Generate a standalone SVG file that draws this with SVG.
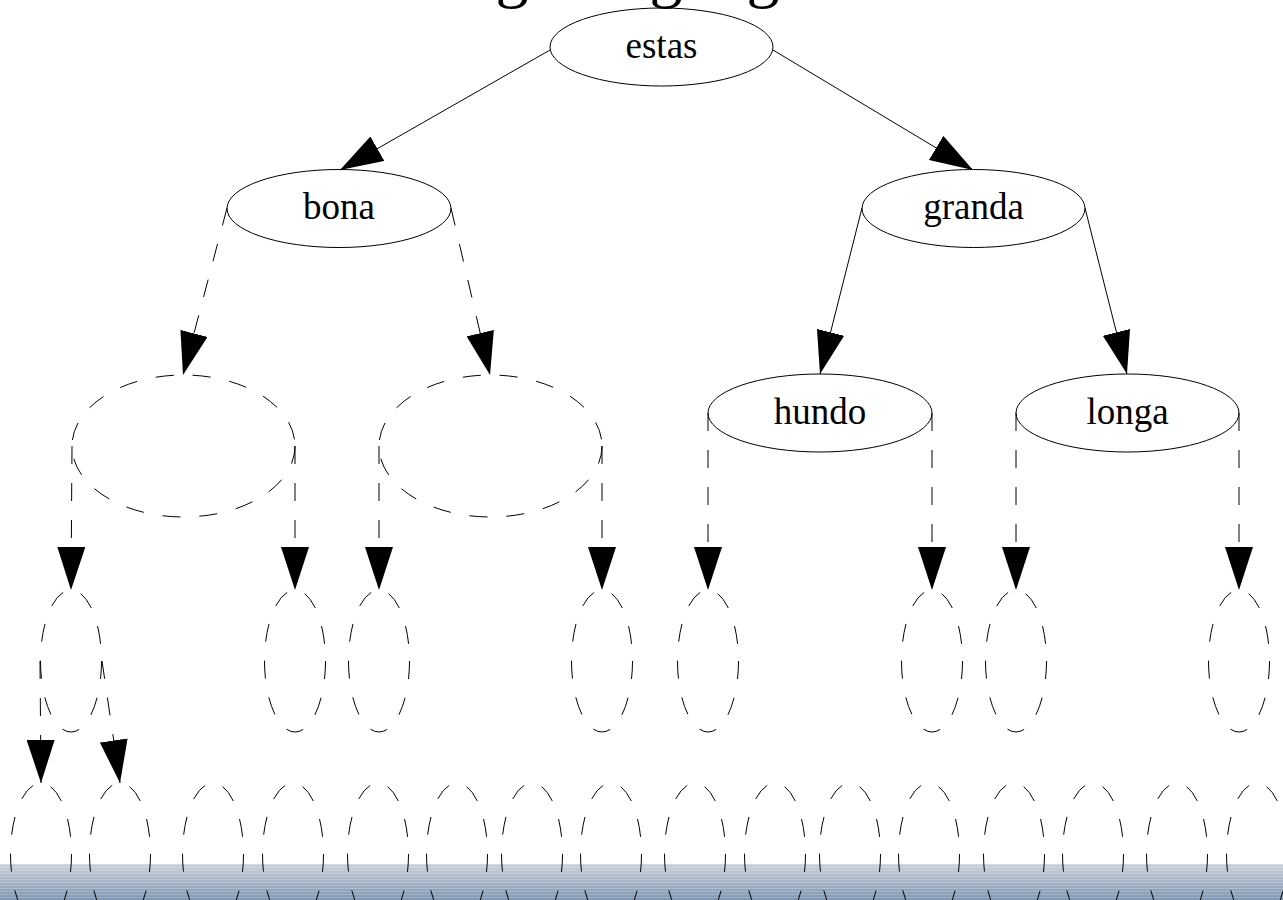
<svg xmlns="http://www.w3.org/2000/svg" width="1283" height="900" viewBox="0 0 1283 900">
<style>
  .lbl { font-family: "Liberation Serif", "Times New Roman", serif; font-size: 37px; text-anchor: middle; fill: #000; }
  .title { font-family: "Liberation Serif", "Times New Roman", serif; font-size: 66px; text-anchor: middle; fill: #000; }
  .solid { fill: none; stroke: #000; stroke-width: 1; }
  .dash { fill: none; stroke: #000; stroke-width: 1; stroke-dasharray: 18 19; }
  .edge { fill: none; stroke: #000; stroke-width: 1; marker-end: url(#arrow); }
  .edge.d { stroke-dasharray: 18 19; }
</style>
<defs>
  <marker id="arrow" viewBox="0 0 43 28" refX="43" refY="14" markerWidth="43" markerHeight="28" markerUnits="userSpaceOnUse" orient="auto">
    <path d="M0,0 L43,14 L0,28 Z" fill="#000" stroke="none"/>
  </marker>
  <linearGradient id="barGrad" x1="0" y1="0" x2="0" y2="1">
    <stop offset="0" stop-color="#c9d1da"/>
    <stop offset="1" stop-color="#7f95b1"/>
  </linearGradient>
  <pattern id="stripes" width="8" height="3" patternUnits="userSpaceOnUse">
    <rect x="0" y="0" width="8" height="1" fill="#ffffff" fill-opacity="0.22"/>
  </pattern>
</defs>
<rect x="0" y="0" width="1283" height="900" fill="#fff"/>
<g id="bottom-bar">
  <rect x="0" y="864" width="1283" height="36" fill="url(#barGrad)"/>
  <rect x="0" y="864" width="1283" height="36" fill="url(#stripes)"/>
</g>
<text class="title" x="512 666 763" y="-5">ggg</text>

<g id="connectors">
  <path class="edge" d="M550,50 L340,170"/>
  <path class="edge" d="M773,50 L973,170"/>
  <path class="edge d" d="M227,208 L183,375"/>
  <path class="edge d" d="M451,208 L490,375"/>
  <path class="edge" d="M862,208 L820,374"/>
  <path class="edge" d="M1085,208 L1127,374"/>
  <path class="edge d" d="M72,446 L71,590"/>
  <path class="edge d" d="M295,446 L295,590"/>
  <path class="edge d" d="M379,446 L379,590"/>
  <path class="edge d" d="M602,446 L602,590"/>
  <path class="edge d" d="M708,413 L708,590"/>
  <path class="edge d" d="M932,413 L932,590"/>
  <path class="edge d" d="M1016,413 L1016,590"/>
  <path class="edge d" d="M1239,413 L1239,590"/>
  <path class="edge d" d="M40,661 L41,783"/>
  <path class="edge d" d="M102,661 L120,783"/>
</g>

<g id="node-estas"><ellipse class="solid" cx="661.5" cy="47" rx="111.5" ry="39"/><text class="lbl" x="661.5" y="58">estas</text></g>
<g id="node-bona"><ellipse class="solid" cx="339" cy="208.5" rx="112" ry="39"/><text class="lbl" x="339" y="219">bona</text></g>
<g id="node-granda"><ellipse class="solid" cx="973.5" cy="208.5" rx="111.5" ry="39"/><text class="lbl" x="973.5" y="219">granda</text></g>
<g id="node-hundo"><ellipse class="solid" cx="820" cy="413" rx="112" ry="39"/><text class="lbl" x="820" y="424">hundo</text></g>
<g id="node-longa"><ellipse class="solid" cx="1127.5" cy="413" rx="111.5" ry="39"/><text class="lbl" x="1127.5" y="424">longa</text></g>

<g id="node-b1"><ellipse class="dash" cx="183.5" cy="446" rx="111.5" ry="71"/></g>
<g id="node-b2"><ellipse class="dash" cx="490.5" cy="446" rx="111.5" ry="71"/></g>

<g id="node-c1"><ellipse class="dash" cx="71" cy="661" rx="30.5" ry="71"/></g>
<g id="node-c2"><ellipse class="dash" cx="295" cy="661" rx="30.5" ry="71"/></g>
<g id="node-c3"><ellipse class="dash" cx="379" cy="661" rx="30.5" ry="71"/></g>
<g id="node-c4"><ellipse class="dash" cx="602" cy="661" rx="30.5" ry="71"/></g>
<g id="node-c5"><ellipse class="dash" cx="708" cy="661" rx="30.5" ry="71"/></g>
<g id="node-c6"><ellipse class="dash" cx="932" cy="661" rx="30.5" ry="71"/></g>
<g id="node-c7"><ellipse class="dash" cx="1016" cy="661" rx="30.5" ry="71"/></g>
<g id="node-c8"><ellipse class="dash" cx="1239" cy="661" rx="30.5" ry="71"/></g>

<g id="node-d1"><ellipse class="dash" cx="41" cy="854" rx="30.5" ry="71"/></g>
<g id="node-d2"><ellipse class="dash" cx="120" cy="854" rx="30.5" ry="71"/></g>
<g id="node-d3"><ellipse class="dash" cx="213" cy="854" rx="30.5" ry="71"/></g>
<g id="node-d4"><ellipse class="dash" cx="293" cy="854" rx="30.5" ry="71"/></g>
<g id="node-d5"><ellipse class="dash" cx="378" cy="854" rx="30.5" ry="71"/></g>
<g id="node-d6"><ellipse class="dash" cx="457" cy="854" rx="30.5" ry="71"/></g>
<g id="node-d7"><ellipse class="dash" cx="532" cy="854" rx="30.5" ry="71"/></g>
<g id="node-d8"><ellipse class="dash" cx="611" cy="854" rx="30.5" ry="71"/></g>
<g id="node-d9"><ellipse class="dash" cx="695" cy="854" rx="30.5" ry="71"/></g>
<g id="node-d10"><ellipse class="dash" cx="775" cy="854" rx="30.5" ry="71"/></g>
<g id="node-d11"><ellipse class="dash" cx="850" cy="854" rx="30.5" ry="71"/></g>
<g id="node-d12"><ellipse class="dash" cx="929" cy="854" rx="30.5" ry="71"/></g>
<g id="node-d13"><ellipse class="dash" cx="1014" cy="854" rx="30.5" ry="71"/></g>
<g id="node-d14"><ellipse class="dash" cx="1093" cy="854" rx="30.5" ry="71"/></g>
<g id="node-d15"><ellipse class="dash" cx="1177" cy="854" rx="30.5" ry="71"/></g>
<g id="node-d16"><ellipse class="dash" cx="1257" cy="854" rx="30.5" ry="71"/></g>
</svg>
